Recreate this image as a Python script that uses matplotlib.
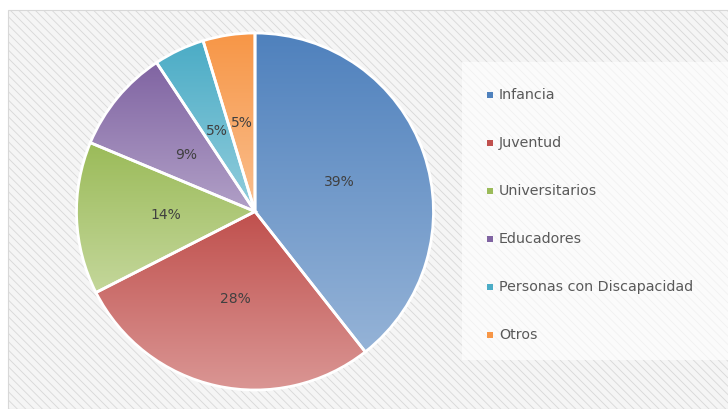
"""
Pie chart: distribution by beneficiary group (Excel-style, gradient wedges).
"""

import numpy as np
import matplotlib
matplotlib.use("Agg")
import matplotlib.pyplot as plt
from matplotlib.patches import Rectangle
from matplotlib.colors import LinearSegmentedColormap

categories = ["Infancia", "Juventud", "Universitarios", "Educadores",
              "Personas con Discapacidad", "Otros"]
shares = [39.4, 28.1, 13.8, 9.4, 4.6, 4.7]
pct_labels = ["39%", "28%", "14%", "9%", "5%", "5%"]

# (top colour, bottom colour) for each slice gradient
dark_colors = ["#4F81BD", "#C0504D", "#9BBB59", "#8064A2", "#4BACC6", "#F79646"]
light_colors = ["#95B3D7", "#DA9694", "#C4D79B", "#B1A0C7", "#92CDDC", "#FABF8F"]

plt.rcParams["hatch.linewidth"] = 0.6
plt.rcParams["font.family"] = ["DejaVu Sans"]

W, H = 728, 409
fig = plt.figure(figsize=(W / 100, H / 100), dpi=100)


def px(x, y):
    # pixel coordinates (top-left origin) -> figure fraction
    return x / W, 1 - y / H


# hatched chart area (drawn under the axes)
x0, y0 = px(8, 10)
fig.patches.append(Rectangle((x0, 0), 1.0, y0, transform=fig.transFigure,
                             facecolor="#F5F5F5", edgecolor="#D8D8D8",
                             hatch="\\\\\\\\", linewidth=0.8, zorder=-2))

# pie axes: centre (255, 211.5), radius 178.5 px
cx, cy, r = 255, 211.5, 178.5
ax = fig.add_axes([(cx - r) / W, (H - cy - r) / H, 2 * r / W, 2 * r / H])
ax.set_zorder(1)
ax.axis("off")
ax.patch.set_visible(False)

wedges, texts = ax.pie(shares, startangle=90, counterclock=False, radius=1.0,
                       labels=pct_labels, labeldistance=0.5,
                       wedgeprops=dict(edgecolor="white", linewidth=2,
                                       facecolor="none", zorder=3),
                       textprops=dict(color="#404040", fontsize=10,
                                      ha="center", va="center"))
for t in texts:
    t.set_zorder(5)

grad = np.linspace(0, 1, 256).reshape(-1, 1)
for w, top, bottom in zip(wedges, dark_colors, light_colors):
    th = np.radians(np.linspace(w.theta1, w.theta2, 200))
    xs = np.concatenate([[0], np.cos(th)])
    ys = np.concatenate([[0], np.sin(th)])
    cmap = LinearSegmentedColormap.from_list("g", [top, bottom])
    im = ax.imshow(grad, cmap=cmap, aspect="auto", origin="upper",
                   extent=[xs.min(), xs.max(), ys.min(), ys.max()],
                   zorder=2, interpolation="bilinear")
    im.set_clip_path(w)
ax.set_xlim(-1, 1)
ax.set_ylim(-1, 1)
ax.set_aspect("equal")

# legend box
lx0, ly1 = px(462, 62)
lx1, ly0 = px(728, 360)
fig.patches.append(Rectangle((lx0, ly0), lx1 - lx0, ly1 - ly0,
                             transform=fig.transFigure, facecolor="white",
                             alpha=0.65, edgecolor="none", zorder=-1))

for i, (name, col) in enumerate(zip(categories, dark_colors)):
    yc = 95 + i * 48
    sx, sy = px(487, yc + 3)
    fig.patches.append(Rectangle((sx, sy), 6 / W, 6 / H,
                                 transform=fig.transFigure, facecolor=col,
                                 edgecolor="none", zorder=2))
    tx, ty = px(499, yc)
    fig.text(tx, ty, name, fontsize=10.3, color="#595959",
             ha="left", va="center")

fig.savefig("out.png", dpi=100)
